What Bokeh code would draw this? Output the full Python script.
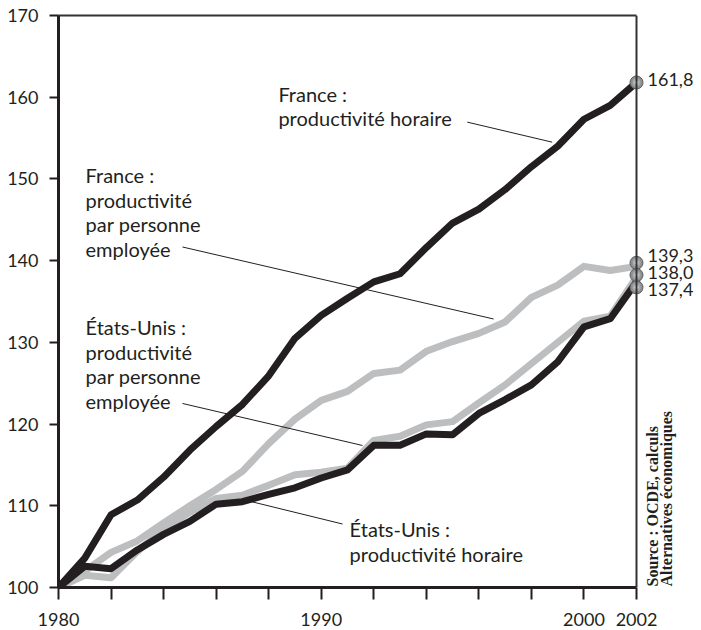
from bokeh.plotting import figure
from bokeh.models import Range1d, LinearAxis, FixedTicker, Span, Label, ColumnDataSource
from bokeh.core.properties import value
from bokeh.embed import file_html
from bokeh.resources import INLINE

# ---------------- data ----------------
years = list(range(1980, 2003))
fr_hour = [100, 103.6, 108.9, 110.7, 113.5, 116.8, 119.7, 122.4, 125.9, 130.5, 133.3, 135.4,
           137.4, 138.4, 141.6, 144.6, 146.3, 148.7, 151.5, 154.0, 157.3, 159.0, 161.8]
fr_pers = [100, 102.0, 104.3, 105.7, 107.9, 110.0, 112.0, 114.2, 117.6, 120.6, 122.9, 124.0,
           126.2, 126.6, 128.9, 130.1, 131.1, 132.5, 135.5, 137.0, 139.3, 138.8, 139.3]
us_pers = [100, 101.5, 101.2, 104.4, 107.2, 109.2, 110.9, 111.3, 112.5, 113.8, 114.1, 114.6,
           118.0, 118.5, 119.9, 120.3, 122.6, 124.8, 127.4, 130.0, 132.6, 133.2, 138.0]
us_hour = [100, 102.6, 102.3, 104.6, 106.5, 108.1, 110.2, 110.5, 111.4, 112.2, 113.4, 114.4,
           117.4, 117.4, 118.8, 118.7, 121.3, 123.0, 124.8, 127.6, 131.9, 132.9, 137.4]
y_ticks = [100, 110, 120, 130, 140, 150, 160, 170]
x_ticks = list(range(1980, 2003, 2))
x_tick_labels = {1980: "1980", 1990: "1990", 2000: "2000", 2002: "2002"}

series_labels = [
    "France :\nproductivité horaire",
    "France :\nproductivité\npar personne\nemployée",
    "États-Unis :\nproductivité\npar personne\nemployée",
    "États-Unis :\nproductivité horaire",
]
source_text = "Source : OCDE, calculs\nAlternatives économiques"

BLACK = "#231f20"
GRAY = "#bdbec0"
FONT = "Lato"

# label anchor positions (data coords) and leader lines
label_pos = [(1988.37, 161.9), (1981.03, 151.9), (1981.03, 133.3), (1991.08, 108.6)]
leaders = [((1995.56, 156.95), (1998.79, 154.50)),
           ((1984.72, 141.67), (1996.56, 132.86)),
           ((1984.72, 122.52), (1991.57, 117.38)),
           ((1987.16, 110.65), (1990.81, 107.77))]

X0, X1 = years[0], years[-1]
p = figure(frame_width=642, frame_height=572,
           x_range=Range1d(X0, X0 + 642 / 26.273), y_range=Range1d(100, 170),
           output_backend="svg", toolbar_location=None,
           min_border_left=58, min_border_top=15, min_border_right=0, min_border_bottom=0,
           background_fill_color="white", border_fill_color="white")
p.outline_line_color = None
p.xgrid.visible = False
p.ygrid.visible = False

# y axis
ya = p.yaxis[0]
ya.ticker = FixedTicker(ticks=y_ticks)
ya.axis_line_width = 3
ya.axis_line_color = BLACK
ya.major_tick_line_width = 2
ya.major_tick_line_color = BLACK
ya.major_tick_out = 9
ya.major_tick_in = 0
ya.minor_tick_out = 0
ya.minor_tick_in = 0
ya.major_label_text_font = FONT
ya.major_label_text_font_size = "18px"
ya.major_label_text_color = BLACK
ya.major_label_standoff = 11

# x axis
xa = p.xaxis[0]
xa.bounds = (X0, X1)
xa.ticker = FixedTicker(ticks=x_ticks)
xa.major_label_overrides = {t: x_tick_labels.get(t, "") for t in x_ticks}
xa.axis_line_width = 3
xa.axis_line_color = BLACK
xa.major_tick_line_width = 2
xa.major_tick_line_color = BLACK
xa.major_tick_out = 12
xa.major_tick_in = 0
xa.minor_tick_out = 0
xa.minor_tick_in = 0
xa.major_label_text_font = FONT
xa.major_label_text_font_size = "18px"
xa.major_label_text_color = BLACK
xa.major_label_standoff = 13

# top border
top = LinearAxis(bounds=(X0, X1), ticker=FixedTicker(ticks=[]),
                 axis_line_width=2, axis_line_color="#333333",
                 major_tick_out=0, major_tick_in=0, minor_tick_out=0, minor_tick_in=0,
                 major_label_text_font_size="0px", major_label_standoff=0)
p.add_layout(top, "above")
# right border
p.add_layout(Span(location=X1, dimension="height", line_color="#333333", line_width=2))

# data lines
for ys, col in [(fr_pers, GRAY), (us_pers, GRAY), (fr_hour, BLACK), (us_hour, BLACK)]:
    p.line(years, ys, line_color=col, line_width=7, line_join="round", line_cap="round")

# leader lines
p.segment(x0=[a[0][0] for a in leaders], y0=[a[0][1] for a in leaders],
          x1=[a[1][0] for a in leaders], y1=[a[1][1] for a in leaders],
          line_color=BLACK, line_width=1)

# end markers, dodged
ends = [fr_hour[-1], fr_pers[-1], us_pers[-1], us_hour[-1]]

def dodge(vals, gap):
    order = sorted(range(len(vals)), key=lambda i: -vals[i])
    groups, cur = [], [order[0]]
    for i in order[1:]:
        if vals[cur[-1]] - vals[i] < gap * 1.2:
            cur.append(i)
        else:
            groups.append(cur)
            cur = [i]
    groups.append(cur)
    out = list(vals)
    for g in groups:
        m = sum(vals[i] for i in g) / len(g)
        n = len(g)
        for k, i in enumerate(g):
            out[i] = m + (n - 1) / 2 * gap - k * gap
    return out

mark_y = dodge(ends, 1.5)
lab_y = [v + 0.35 for v in dodge(ends, 2.1)]
xs_end = [X1] * len(ends)
p.scatter(xs_end, mark_y, size=13, fill_color="#8e8f91", line_color="#5c5c5c", line_width=1)
p.scatter(xs_end, mark_y, size=8, fill_color="#a9aaac", line_color=None)
p.scatter(xs_end, mark_y, size=4, fill_color="#dcdcdc", line_color=None)
src = ColumnDataSource(dict(x=xs_end, y=lab_y,
                            t=[f"{v:.1f}".replace(".", ",") for v in ends]))
p.text(x="x", y="y", text="t", source=src, x_offset=11, text_font=value(FONT),
       text_font_size="18px", text_color=BLACK, text_baseline="middle", text_align="left")

# series labels
for (lx, ly), txt in zip(label_pos, series_labels):
    p.add_layout(Label(x=lx, y=ly, text=txt, text_font=FONT, text_font_size="20px",
                       text_color=BLACK, text_baseline="top", text_align="left",
                       text_line_height=1.02))

# source (rotated)
p.add_layout(Label(x=2002.3, y=100.12, text=source_text, angle=90, angle_units="deg",
                   text_font="Liberation Serif", text_font_style="bold",
                   text_font_size="16px", text_color=BLACK, text_baseline="top",
                   text_align="left", text_line_height=0.8))

open("out.html", "w").write(file_html(p, INLINE))
